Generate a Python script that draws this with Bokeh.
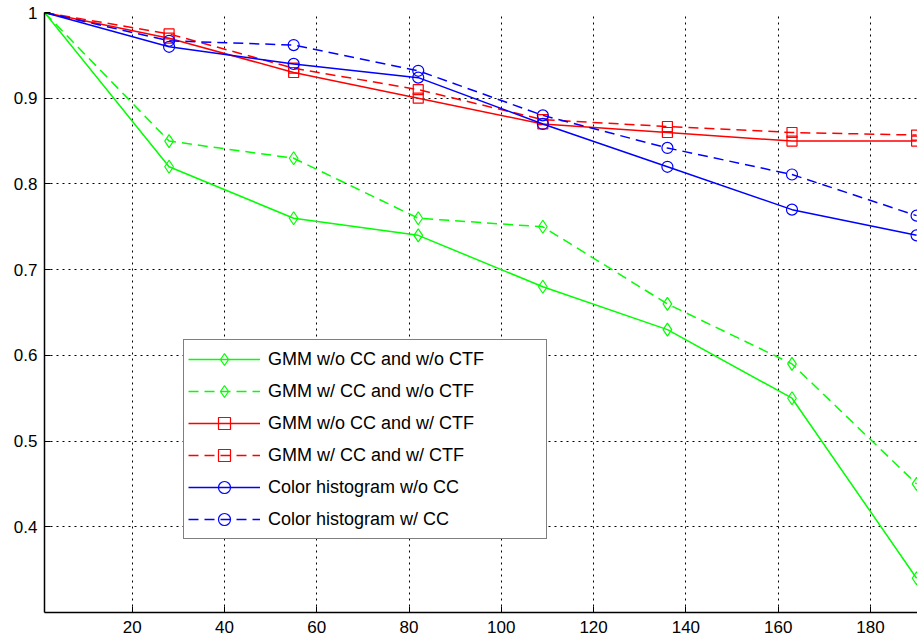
from bokeh.plotting import figure
from bokeh.models import Range1d, FixedTicker, Legend, LegendItem
from bokeh.embed import file_html
from bokeh.resources import INLINE

# ---- data ----
x_vals = [1, 28, 55, 82, 109, 136, 163, 190]
gmm_noCC_noCTF = [1.0, 0.82, 0.76, 0.74, 0.68, 0.63, 0.55, 0.34]
gmm_CC_noCTF = [1.0, 0.85, 0.83, 0.76, 0.75, 0.66, 0.59, 0.45]
gmm_noCC_CTF = [1.0, 0.97, 0.93, 0.90, 0.87, 0.86, 0.85, 0.85]
gmm_CC_CTF = [1.0, 0.975, 0.935, 0.91, 0.875, 0.867, 0.86, 0.857]
hist_noCC = [1.0, 0.96, 0.94, 0.924, 0.87, 0.82, 0.77, 0.74]
hist_CC = [1.0, 0.967, 0.962, 0.932, 0.88, 0.842, 0.811, 0.763]

series_labels = [
    "GMM w/o CC and w/o CTF",
    "GMM w/ CC and w/o CTF",
    "GMM w/o CC and w/ CTF",
    "GMM w/ CC and w/ CTF",
    "Color histogram w/o CC",
    "Color histogram w/ CC",
]
x_ticks = [20, 40, 60, 80, 100, 120, 140, 160, 180]
y_ticks = [0.4, 0.5, 0.6, 0.7, 0.8, 0.9, 1.0]

FONT = "Liberation Sans"

p = figure(width=917, height=641, output_backend="svg", toolbar_location=None,
           x_range=Range1d(1, 190.2), y_range=Range1d(0.3, 1.0),
           min_border_left=44, min_border_right=0, min_border_top=12,
           min_border_bottom=29)
p.outline_line_color = None
p.background_fill_color = "white"
p.border_fill_color = "white"

for ax, ticks in ((p.xaxis, x_ticks), (p.yaxis, y_ticks)):
    ax.ticker = FixedTicker(ticks=ticks)
    ax.major_tick_in = 6
    ax.major_tick_out = 0
    ax.minor_tick_line_color = None
    ax.axis_line_color = "black"
    ax.axis_line_width = 1.5
    ax.major_tick_line_color = "black"
    ax.major_label_text_font = FONT
    ax.major_label_text_font_size = "17px"
    ax.major_label_text_color = "black"
p.xaxis.major_label_standoff = 8
p.yaxis.major_label_standoff = 7
p.yaxis.major_label_overrides = {1.0: "1"}

for g in (p.xgrid, p.ygrid):
    g.grid_line_color = "black"
    g.grid_line_dash = "2 4"
    g.grid_line_width = 1
    g.grid_line_alpha = 1.0
p.xgrid.ticker = FixedTicker(ticks=x_ticks)
p.ygrid.ticker = FixedTicker(ticks=y_ticks)

specs = [
    (gmm_noCC_noCTF, "#00ff00", "solid", "diamond", 13),
    (gmm_CC_noCTF, "#00ff00", "10 6", "diamond", 13),
    (gmm_noCC_CTF, "#ff0000", "solid", "square", 10),
    (gmm_CC_CTF, "#ff0000", "10 6", "square", 10),
    (hist_noCC, "#0000ff", "solid", "circle", 11),
    (hist_CC, "#0000ff", "10 6", "circle", 11),
]

items = []
for (ys, color, dash, marker, size), label in zip(specs, series_labels):
    ln = p.line(x_vals, ys, line_color=color, line_width=1.5, line_dash=dash)
    sc = p.scatter(x_vals[1:], ys[1:], marker=marker, size=size,
                   line_color=color, line_width=1.2, fill_color=None)
    items.append(LegendItem(label=label, renderers=[ln, sc]))

legend = Legend(items=items, location=(139, 73))
legend.label_text_font = FONT
legend.label_text_font_size = "18px"
legend.label_text_color = "black"
legend.glyph_width = 72
legend.glyph_height = 30
legend.label_height = 30
legend.label_width = 274
legend.label_standoff = 8
legend.spacing = 2
legend.padding = 4
legend.margin = 0
legend.border_line_color = "black"
legend.border_line_width = 1.5
legend.background_fill_color = "white"
legend.background_fill_alpha = 1.0
p.add_layout(legend)

open("out.html", "w").write(file_html(p, INLINE))
